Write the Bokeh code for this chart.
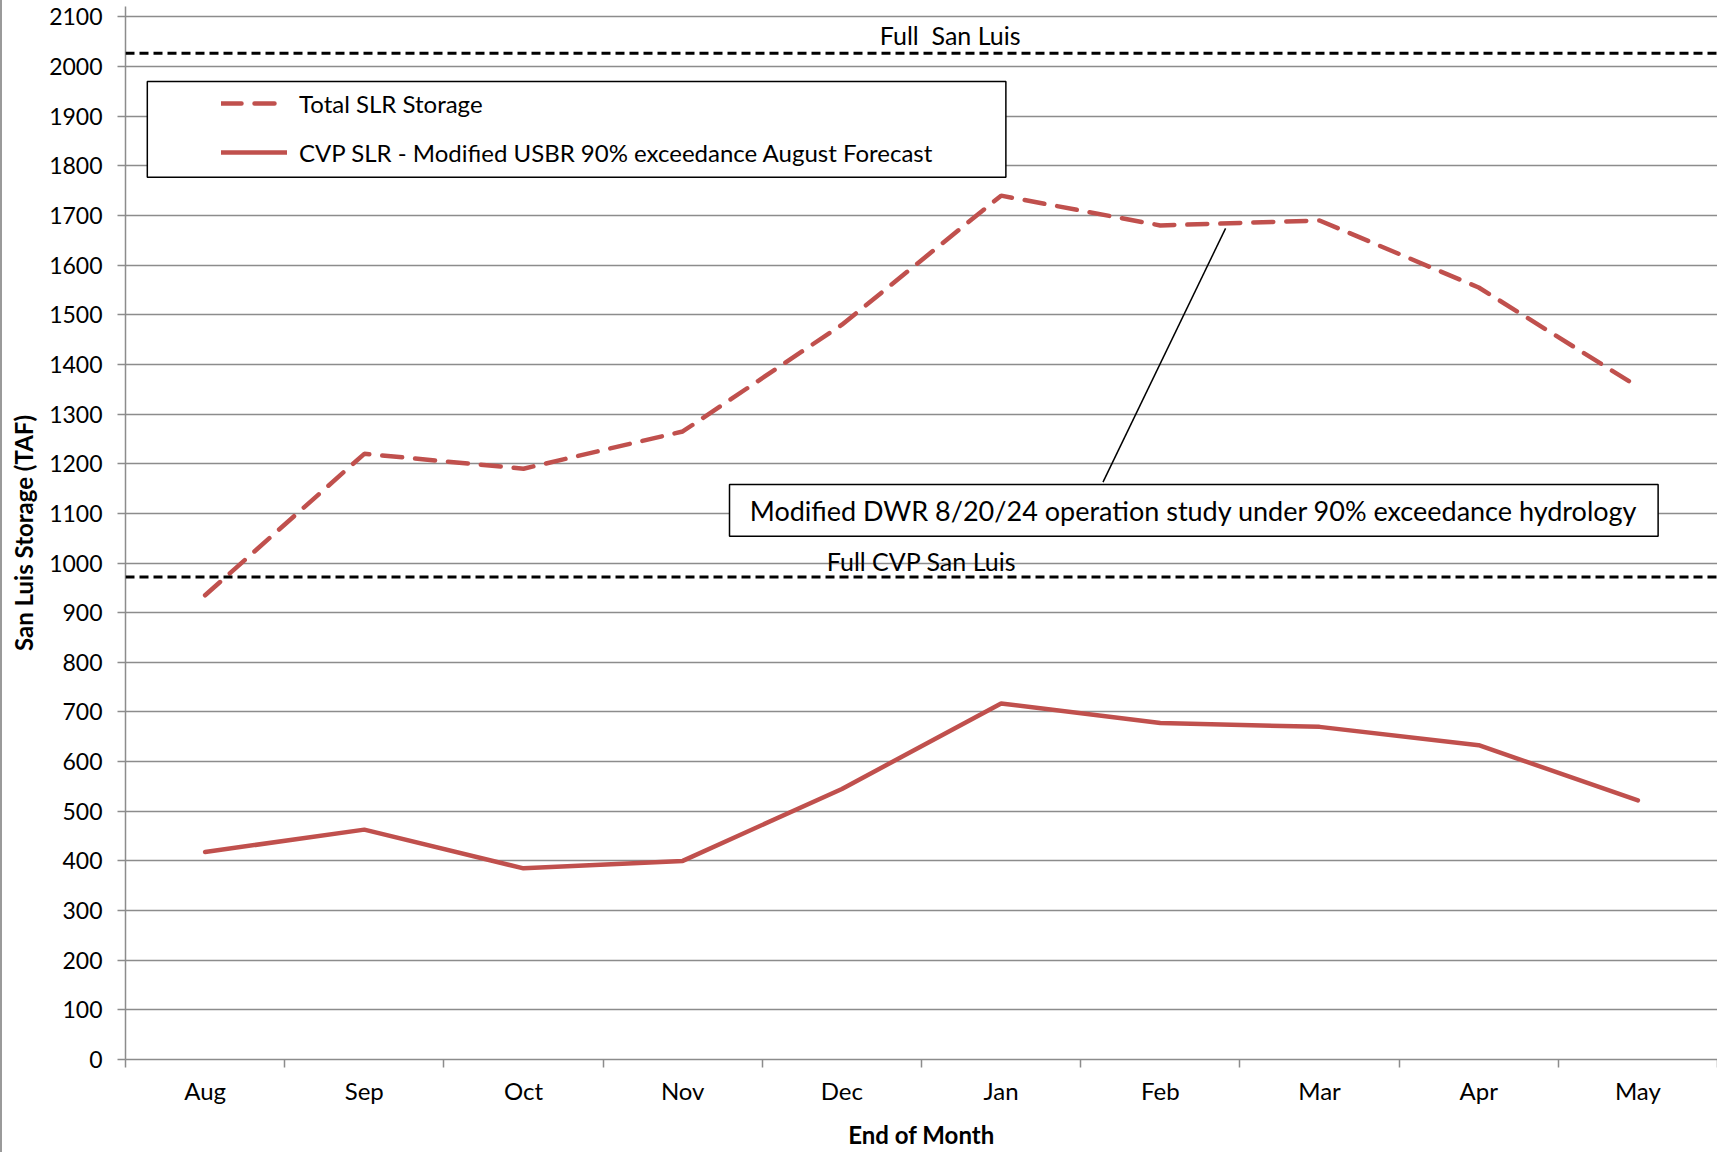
import numpy as np
from bokeh.plotting import figure
from bokeh.models import (Range1d, FixedTicker, Span, Label, BoxAnnotation,
                          Legend, LegendItem)
from bokeh.embed import file_html
from bokeh.resources import INLINE

# ---- data ----
months = ["Aug", "Sep", "Oct", "Nov", "Dec", "Jan", "Feb", "Mar", "Apr", "May"]
total_slr = [935, 1220, 1190, 1265, 1480, 1740, 1680, 1690, 1555, 1355]
cvp_slr = [418, 463, 385, 400, 545, 717, 678, 670, 633, 522]
full_san_luis = 2027
full_cvp_san_luis = 972
y_ticks = list(range(0, 2101, 100))

FONT = "Lato"
RED = "#C0504D"
GRID = "#8C8C8C"

x = list(range(len(months)))

p = figure(width=1717, height=1152, output_backend="svg", toolbar_location=None,
           x_range=Range1d(-0.5, len(months) - 0.5), y_range=Range1d(0, 2121),
           min_border_left=123, min_border_right=2, min_border_top=6,
           min_border_bottom=93)
p.outline_line_color = None
p.background_fill_color = "white"
p.border_fill_color = "white"
p.styles = {"border-left": "2px solid #9a9a9a"}

# axes
xa = p.xaxis[0]
xa.ticker = FixedTicker(ticks=x, minor_ticks=[i - 0.5 for i in range(len(months) + 1)])
xa.major_label_overrides = {i: m for i, m in enumerate(months)}
xa.major_tick_out = 0
xa.major_tick_in = 0
xa.minor_tick_out = 8
xa.minor_tick_in = 0
xa.minor_tick_line_color = GRID
xa.minor_tick_line_width = 1.5
xa.axis_line_color = GRID
xa.axis_line_width = 1.5
xa.major_label_text_font = FONT
xa.major_label_text_font_size = "24px"
xa.major_label_text_color = "black"
xa.major_label_standoff = 8
xa.axis_label = "End of Month"
xa.axis_label_text_font = FONT
xa.axis_label_text_font_size = "24px"
xa.axis_label_text_font_style = "bold"
xa.axis_label_text_color = "black"
xa.axis_label_standoff = 12

ya = p.yaxis[0]
ya.ticker = FixedTicker(ticks=y_ticks)
ya.major_tick_out = 8
ya.major_tick_in = 0
ya.minor_tick_out = 0
ya.minor_tick_in = 0
ya.major_tick_line_color = GRID
ya.major_tick_line_width = 1.5
ya.axis_line_color = GRID
ya.axis_line_width = 1.5
ya.major_label_text_font = FONT
ya.major_label_text_font_size = "23px"
ya.major_label_text_color = "black"
ya.major_label_standoff = 15
ya.axis_label = "San Luis Storage (TAF)"
ya.axis_label_text_font = FONT
ya.axis_label_text_font_size = "24px"
ya.axis_label_text_font_style = "bold"
ya.axis_label_text_color = "black"
ya.axis_label_standoff = 8

p.xgrid.visible = False
p.ygrid.ticker = FixedTicker(ticks=y_ticks)
p.ygrid.grid_line_color = GRID
p.ygrid.grid_line_width = 1.5

# series
r_total = p.line(x, total_slr, line_color=RED, line_width=4.5, line_dash="20 13",
                 line_cap="round")
r_cvp = p.line(x, cvp_slr, line_color=RED, line_width=4.5, line_cap="round")

# reference lines
for loc in (full_san_luis, full_cvp_san_luis):
    p.add_layout(Span(location=loc, dimension="width", line_color="black",
                      line_width=3, line_dash="9 5"))

p.add_layout(Label(x=4.68, y=full_san_luis + 36, text="Full \u00a0San Luis",
                   text_align="center", text_baseline="middle",
                   text_font=FONT, text_font_size="25px", text_color="black"))
p.add_layout(Label(x=4.5, y=full_cvp_san_luis + 33, text="Full CVP San Luis",
                   text_align="center", text_baseline="middle",
                   text_font=FONT, text_font_size="25px", text_color="black"))

# callout
x_end = 6.41
y_end = float(np.interp(x_end, x, total_slr)) - 10
p.line([5.64, x_end], [1163, y_end], line_color="black", line_width=1.5)
p.add_layout(BoxAnnotation(left=3.294, right=9.127, bottom=1054, top=1158,
                           fill_color="white", fill_alpha=1.0,
                           line_color="black", line_alpha=1.0, line_width=1.5))
p.add_layout(Label(x=6.21, y=1106,
                   text="Modified DWR 8/20/24 operation study under 90% exceedance hydrology",
                   text_align="center", text_baseline="middle",
                   text_font=FONT, text_font_size="27px", text_color="black"))

# legend
p.add_layout(BoxAnnotation(left=-0.363, right=5.03, bottom=1777, top=1970,
                           fill_color="white", fill_alpha=1.0,
                           line_color="black", line_alpha=1.0, line_width=1.5))
legend = Legend(items=[LegendItem(label="Total SLR Storage", renderers=[r_total]),
                       LegendItem(label="CVP SLR - Modified USBR 90% exceedance August Forecast",
                                  renderers=[r_cvp])],
                location=(96, 892), border_line_color=None, background_fill_alpha=0,
                padding=0, margin=0, spacing=19, glyph_width=66, glyph_height=30,
                label_height=30, label_standoff=12, label_text_font=FONT,
                label_text_font_size="24px", label_text_color="black")
p.add_layout(legend)

open("out.html", "w").write(file_html(p, INLINE))
